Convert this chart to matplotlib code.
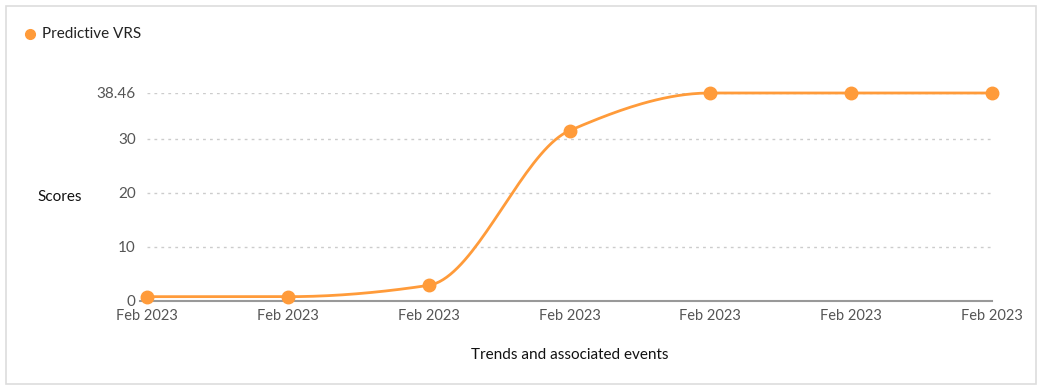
import numpy as np
import matplotlib
matplotlib.use("Agg")
import matplotlib.pyplot as plt
from matplotlib.patches import Rectangle

plt.rcParams['font.family'] = ['Lato', 'DejaVu Sans']

dates = ["Feb 2023"] * 7
scores = [0.8, 0.8, 2.9, 31.5, 38.46, 38.46, 38.46]
yticks = [0, 10, 20, 30, 38.46]
ytick_labels = ["0", "10", "20", "30", "38.46"]
series_name = "Predictive VRS"
orange = "#FF9B3A"


def monotone_curve(x, y, steps=40):
    # Fritsch-Carlson monotone cubic, just for drawing the smooth line
    x = np.asarray(x, float)
    y = np.asarray(y, float)
    h = np.diff(x)
    d = np.diff(y) / h
    m = np.zeros_like(y)
    m[0], m[-1] = d[0], d[-1]
    for i in range(1, len(y) - 1):
        if d[i - 1] * d[i] <= 0:
            m[i] = 0
        else:
            m[i] = 2 / (1 / d[i - 1] + 1 / d[i])
    xs, ys = [], []
    for i in range(len(h)):
        t = np.linspace(0, 1, steps)
        h00 = 2 * t**3 - 3 * t**2 + 1
        h10 = t**3 - 2 * t**2 + t
        h01 = -2 * t**3 + 3 * t**2
        h11 = t**3 - t**2
        xs.append(x[i] + t * h[i])
        ys.append(h00 * y[i] + h10 * h[i] * m[i] + h01 * y[i + 1] + h11 * h[i] * m[i + 1])
    return np.concatenate(xs), np.concatenate(ys)


W, H = 1044, 392
fig = plt.figure(figsize=(W / 100, H / 100), dpi=100)
fig.patches.append(Rectangle((6 / W, 8 / H), 1030 / W, 378 / H, transform=fig.transFigure,
                             fill=False, edgecolor="#dddddd", linewidth=1.2))

left, right, bottom, top = 140, 992, 301, 93
ax = fig.add_axes([left / W, 1 - bottom / H, (right - left) / W, (bottom - top) / H])

xpos = np.arange(len(scores))
cx, cy = monotone_curve(xpos, scores)
ax.plot(cx, cy, color=orange, linewidth=2, clip_on=False, zorder=3)
ax.plot(xpos, scores, "o", color=orange, markersize=9, clip_on=False, zorder=4)

ax.set_xlim(-0.05, 6)
ax.set_ylim(0, 38.46)

for v in yticks[1:]:
    ax.axhline(v, xmin=0.05 / 6.05, color="#cccccc", linewidth=1, linestyle=(0, (2, 3)), zorder=1)

ax.set_yticks(yticks)
ax.set_yticklabels(ytick_labels)
ax.set_xticks(xpos)
ax.set_xticklabels(dates)
ax.tick_params(axis="both", length=0, labelcolor="#555555")
ax.tick_params(axis="y", pad=3, labelsize=11)
ax.tick_params(axis="x", pad=6, labelsize=10.5)
ax.get_yticklabels()[0].set_y(0.4)

for s in ["top", "right", "left"]:
    ax.spines[s].set_visible(False)
ax.spines["bottom"].set_color("#999999")
ax.spines["bottom"].set_linewidth(1.5)
ax.patch.set_visible(False)

fig.text(60 / W, 1 - 197 / H, "Scores", ha="center", va="center", fontsize=11, color="#111111")
fig.text(570 / W, 1 - 355 / H, "Trends and associated events", ha="center", va="center",
         fontsize=11, color="#111111")

fig.lines.append(plt.Line2D([30 / W], [1 - 34 / H], marker="o", color=orange, markersize=7,
                            transform=fig.transFigure))
fig.text(42 / W, 1 - 34 / H, series_name, ha="left", va="center", fontsize=11, color="#222222")

fig.savefig("out.png", dpi=100)
